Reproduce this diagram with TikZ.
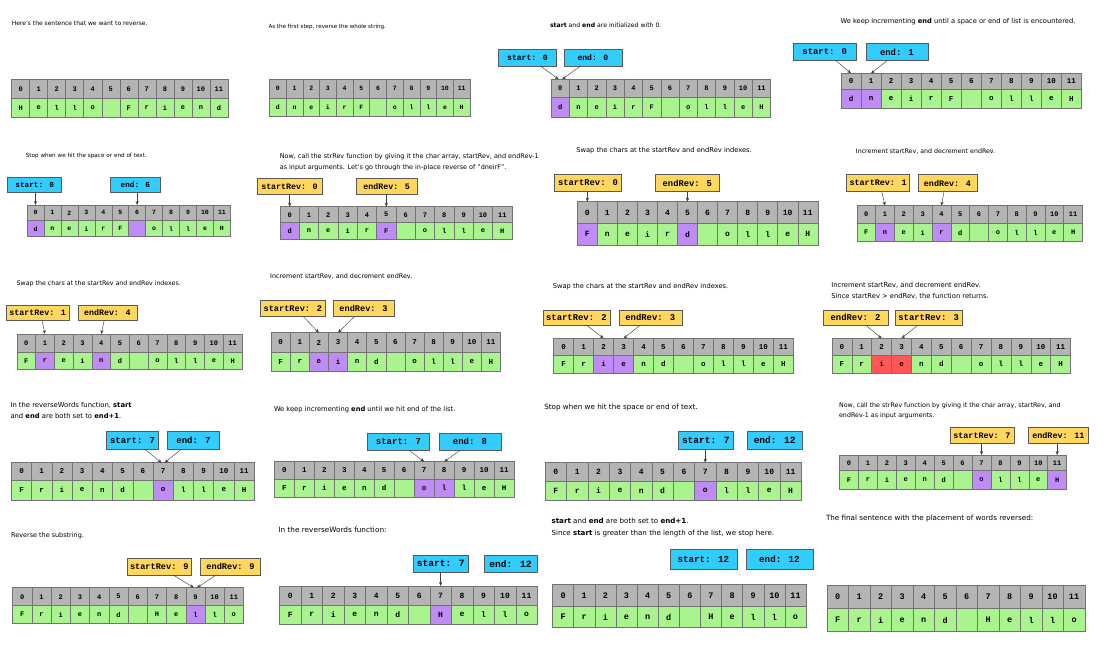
\documentclass[tikz,border=0pt]{standalone}
\usepackage{fontspec}
\usepackage{graphicx}
\setmainfont{DejaVu Sans}
\newfontfamily\mymono{Liberation Mono}
\usetikzlibrary{arrows.meta}
\definecolor{gr}{HTML}{A9F48F}
\definecolor{pu}{HTML}{BF8CF5}
\definecolor{rd}{HTML}{FF5757}
\definecolor{hd}{HTML}{B4B4B4}
\definecolor{cy}{HTML}{33CCFF}
\definecolor{ye}{HTML}{FFD75E}
\newlength\mytxtw
\newcommand\txtfont{\fontsize{10}{16.5}\selectfont}
\newcommand\fitone[2]{\settowidth{\mytxtw}{\txtfont #2}\pgfmathsetmacro\fitsc{#1/\mytxtw}\scalebox{\fitsc}{\txtfont #2}}
\newcommand\fittwo[3]{\settowidth{\mytxtw}{\txtfont\begin{tabular}{@{}l@{}}#2\\#3\end{tabular}}\pgfmathsetmacro\fitsc{#1/\mytxtw}\scalebox{\fitsc}{\txtfont\begin{tabular}{@{}l@{}}#2\\#3\end{tabular}}}
\newcommand\monofs[1]{\fontsize{#1}{#1}\selectfont\mymono\bfseries}
\tikzset{
  cellb/.style={draw=black!55, line width=0.5pt, inner sep=0pt, outer sep=0pt, anchor=north west},
  lab/.style={draw=black!65, line width=0.6pt, inner sep=0pt, outer sep=0pt, font=\monofs{#1}},
  labc/.style={lab=#1, fill=cy},
  laby/.style={lab=#1, fill=ye},
  txt/.style={anchor=west, inner sep=0pt},
  ar/.style={draw=black!75, line width=0.45pt, -{Stealth[length=4pt,width=3.2pt]}}
}
% prefix, x, y, cell width, header height, data height, font size, list
\newcommand\cells[8]{%
  \foreach \ch/\col [count=\i from 0] in {#8}{%
    \node[cellb, fill=hd, minimum width=#4pt, minimum height=#5pt, font=\monofs{#7}] (#1h\i) at ({#2+\i*#4},#3) {\i};
    \node[cellb, fill=\col, minimum width=#4pt, minimum height=#6pt, font=\monofs{#7}] (#1d\i) at ({#2+\i*#4},{#3+#5}) {\ch};
  }}
% name, x1, y1, x2, y2, style, text
\newcommand\mklab[7]{\node[#6, minimum width={(#4-#2)*1pt}, minimum height={(#5-#3)*1pt}] (#1) at ({(#2+#4)/2},{(#3+#5)/2}) {#7};}
\begin{document}
\begin{tikzpicture}[x=1pt,y=-1pt]
\useasboundingbox (0,0) rectangle (1107,648);
\fill[white] (0,0) rectangle (1107,648);

% ---------- Panel 1
\node[txt] (t1) at (11.6,23.3) {\fitone{135.7}{Here's the sentence that we want to reverse.}};
\cells{a1}{11.6}{79.3}{18.03}{19}{19.4}{7}{H/gr,e/gr,l/gr,l/gr,o/gr,{}/gr,F/gr,r/gr,i/gr,e/gr,n/gr,d/gr}

% ---------- Panel 2
\node[txt] (t2) at (268.3,26.7) {\fitone{117.5}{As the first step, reverse the whole string.}};
\cells{a2}{269.4}{79.3}{16.72}{19}{18}{6.5}{d/gr,n/gr,e/gr,i/gr,r/gr,F/gr,{}/gr,o/gr,l/gr,l/gr,e/gr,H/gr}

% ---------- Panel 3
\node[txt] (t3) at (549.8,25) {\fitone{111.4}{\textbf{start} and \textbf{end} are initialized with 0.}};
\mklab{p3s}{498.7}{49}{556.1}{66}{labc=8.1}{start: 0}
\mklab{p3e}{564}{49}{621.8}{66}{labc=8.1}{end: 0}
\cells{a3}{551}{79.3}{18.3}{18.4}{19.3}{7}{d/pu,n/gr,e/gr,i/gr,r/gr,F/gr,{}/gr,o/gr,l/gr,l/gr,e/gr,H/gr}
\draw[ar] ([xshift=13pt]p3s.south) -- ([xshift=-1.5pt]a3h0.north);
\draw[ar] ([xshift=-12.4pt]p3e.south) -- ([xshift=2pt]a3h0.north);

% ---------- Panel 4
\node[txt] (t4) at (840.3,21.7) {\fitone{234.9}{We keep incrementing \textbf{end} until a space or end of list is encountered.}};
\mklab{p4s}{793.4}{43.7}{856}{60.3}{labc=8.9}{start: 0}
\mklab{p4e}{865.8}{43.7}{928}{60.3}{labc=8.9}{end: 1}
\cells{a4}{841}{73.3}{20.04}{16}{19}{7.5}{d/pu,n/pu,e/gr,i/gr,r/gr,F/gr,{}/gr,o/gr,l/gr,l/gr,e/gr,H/gr}
\draw[ar] ([xshift=10.8pt]p4s.south) -- (a4h0.north);
\draw[ar] ([xshift=-9.4pt]p4e.south) -- (a4h1.north);

% ---------- Panel 5
\node[txt] (t5) at (25.6,155.7) {\fitone{121}{Stop when we hit the space or end of text.}};
\mklab{p5s}{7.7}{177.7}{61.7}{192.7}{labc=7.7}{start: 0}
\mklab{p5e}{110}{177.7}{160.6}{192.7}{labc=7.7}{end: 6}
\cells{a5}{27}{205}{16.95}{15.7}{16}{6.5}{d/pu,n/gr,e/gr,i/gr,r/gr,F/gr,{}/pu,o/gr,l/gr,l/gr,e/gr,H/gr}
\draw[ar] (a5h0.north |- p5s.south) -- (a5h0.north);
\draw[ar] (a5h6.north |- p5e.south) -- (a5h6.north);

% ---------- Panel 6
\node[txt] (t6) at (279.6,161.7) {\fittwo{258.8}{Now, call the strRev function by giving it the char array, startRev, and endRev-1}{as input arguments. Let's go through the in-place reverse of "dneirF".}};
\mklab{p6s}{257}{178.3}{322}{194.3}{laby=8.3}{startRev: 0}
\mklab{p6e}{356}{178.3}{417.4}{194.3}{laby=8.3}{endRev: 5}
\cells{a6}{280}{206.7}{19.33}{16}{16.6}{7}{d/pu,n/gr,e/gr,i/gr,r/gr,F/pu,{}/gr,o/gr,l/gr,l/gr,e/gr,H/gr}
\draw[ar] (a6h0.north |- p6s.south) -- (a6h0.north);
\draw[ar] (a6h5.north |- p6e.south) -- (a6h5.north);

% ---------- Panel 7
\node[txt] (t7) at (576.2,150.7) {\fitone{175.4}{Swap the chars at the startRev and endRev indexes.}};
\mklab{p7s}{554.5}{174.3}{621.4}{191.7}{laby=8.8}{startRev: 0}
\mklab{p7e}{655.7}{174.3}{719}{191.7}{laby=8.8}{endRev: 5}
\cells{a7}{577.3}{201.7}{20.04}{21.6}{21.7}{8}{F/pu,n/gr,e/gr,i/gr,r/gr,d/pu,{}/gr,o/gr,l/gr,l/gr,e/gr,H/gr}
\draw[ar] (a7h0.north |- p7s.south) -- (a7h0.north);
\draw[ar] (a7h5.north |- p7e.south) -- (a7h5.north);

% ---------- Panel 8
\node[txt] (t8) at (855.7,151.7) {\fitone{139.3}{Increment startRev, and decrement endRev.}};
\mklab{p8s}{846.7}{174.3}{909.6}{191.7}{laby=8.4}{startRev: 1}
\mklab{p8e}{918}{174.3}{976.9}{191.7}{laby=8.4}{endRev: 4}
\cells{a8}{856.8}{205.7}{18.81}{17.6}{18.4}{7}{F/gr,n/pu,e/gr,i/gr,r/pu,d/gr,{}/gr,o/gr,l/gr,l/gr,e/gr,H/gr}
\draw[ar] ([xshift=3.6pt]p8s.south) -- (a8h1.north);
\draw[ar] ([xshift=-3.5pt]p8e.south) -- (a8h4.north);

% ---------- Panel 9
\node[txt] (t9) at (16.5,283.3) {\fitone{164.1}{Swap the chars at the startRev and endRev indexes.}};
\mklab{p9s}{6.3}{305}{69.1}{320.7}{laby=8.3}{startRev: 1}
\mklab{p9e}{77.9}{305}{136.8}{320.7}{laby=8.3}{endRev: 4}
\cells{a9}{16.8}{334}{18.77}{18.3}{17}{7}{F/gr,r/pu,e/gr,i/gr,n/pu,d/gr,{}/gr,o/gr,l/gr,l/gr,e/gr,H/gr}
\draw[ar] ([xshift=4.4pt]p9s.south) -- (a9h1.north);
\draw[ar] ([xshift=-3.2pt]p9e.south) -- (a9h4.north);

% ---------- Panel 10
\node[txt] (t10) at (270,276.7) {\fitone{142.1}{Increment startRev, and decrement endRev.}};
\mklab{p10s}{260.6}{300.7}{325.2}{316.7}{laby=8.6}{startRev: 2}
\mklab{p10e}{333.2}{300.7}{393.9}{316.7}{laby=8.6}{endRev: 3}
\cells{a10}{271.1}{332.7}{19.12}{19.6}{18.7}{7.5}{F/gr,r/gr,e/pu,i/pu,n/gr,d/gr,{}/gr,o/gr,l/gr,l/gr,e/gr,H/gr}
\draw[ar] ([xshift=10.5pt]p10s.south) -- (a10h2.north);
\draw[ar] ([xshift=-9.3pt]p10e.south) -- (a10h3.north);

% ---------- Panel 11
\node[txt] (t11) at (552.7,286.7) {\fitone{175.3}{Swap the chars at the startRev and endRev indexes.}};
\mklab{p11s}{542.9}{310}{609.8}{325}{laby=8.9}{startRev: 2}
\mklab{p11e}{618.8}{310}{681.8}{325}{laby=8.9}{endRev: 3}
\cells{a11}{553.7}{338.3}{19.96}{16.7}{18.3}{7.5}{F/gr,r/gr,i/pu,e/pu,n/gr,d/gr,{}/gr,o/gr,l/gr,l/gr,e/gr,H/gr}
\draw[ar] ([xshift=9.9pt]p11s.south) -- (a11h2.north);
\draw[ar] ([xshift=-9.8pt]p11e.south) -- (a11h3.north);

% ---------- Panel 12
\node[txt] (t12) at (831.1,290.9) {\fittwo{157.4}{Increment startRev, and decrement endRev.}{Since startRev > endRev, the function returns.}};
\mklab{p12e}{823.2}{310}{887.9}{325}{laby=8.9}{endRev: 2}
\mklab{p12s}{895.2}{310}{962}{325}{laby=8.9}{startRev: 3}
\cells{a12}{831.9}{338.3}{19.89}{16.7}{18.3}{7.5}{F/gr,r/gr,i/rd,e/rd,n/gr,d/gr,{}/gr,o/gr,l/gr,l/gr,e/gr,H/gr}
\draw[ar] ([xshift=9.9pt]p12e.south) -- (a12h2.north);
\draw[ar] ([xshift=-10.6pt]p12s.south) -- (a12h3.north);

% ---------- Panel 13
\node[txt] (t13) at (10.3,411) {\fittwo{121.2}{In the reverseWords function, \textbf{start}}{and \textbf{end} are both set to \textbf{end+1}.}};
\mklab{p13s}{106.7}{431.7}{158.4}{449}{labc=9}{start: 7}
\mklab{p13e}{167.7}{431.7}{219.3}{449}{labc=9}{end: 7}
\cells{a13}{11.4}{462.7}{20.23}{17.3}{20}{7.5}{F/gr,r/gr,i/gr,e/gr,n/gr,d/gr,{}/gr,o/pu,l/gr,l/gr,e/gr,H/gr}
\draw[ar] ([xshift=12pt]p13s.south) -- ([xshift=-1.5pt]a13h7.north);
\draw[ar] ([xshift=-12pt]p13e.south) -- ([xshift=1.5pt]a13h7.north);

% ---------- Panel 14
\node[txt] (t14) at (273.8,410) {\fitone{181.4}{We keep incrementing \textbf{end} until we hit end of the list.}};
\mklab{p14s}{367.4}{433.3}{429.4}{450}{labc=9}{start: 7}
\mklab{p14e}{439}{433.3}{501}{450}{labc=9}{end: 8}
\cells{a14}{274.4}{461.7}{19.97}{17.3}{18.3}{7.5}{F/gr,r/gr,i/gr,e/gr,n/gr,d/gr,{}/gr,o/pu,l/pu,l/gr,e/gr,H/gr}
\draw[ar] ([xshift=10.3pt]p14s.south) -- (a14h7.north);
\draw[ar] ([xshift=-9.6pt]p14e.south) -- (a14h8.north);

% ---------- Panel 15
\node[txt] (t15) at (544.1,407.3) {\fitone{153.3}{Stop when we hit the space or end of text.}};
\mklab{p15s}{678.4}{431.7}{733.1}{449}{labc=9.5}{start: 7}
\mklab{p15e}{747.3}{431.7}{802}{449}{labc=9.5}{end: 12}
\cells{a15}{545.2}{462.7}{21.34}{19}{18.3}{8}{F/gr,r/gr,i/gr,e/gr,n/gr,d/gr,{}/gr,o/pu,l/gr,l/gr,e/gr,H/gr}
\draw[ar] (a15h7.north |- p15s.south) -- (a15h7.north);

% ---------- Panel 16
\node[txt] (t16) at (838.9,410.4) {\fittwo{221.5}{Now, call the strRev function by giving it the char array, startRev, and}{endRev-1 as input arguments.}};
\mklab{p16s}{949.8}{427.7}{1014}{443.3}{laby=8.4}{startRev: 7}
\mklab{p16e}{1028.3}{427.7}{1088.5}{443.3}{laby=8.4}{endRev: 11}
\cells{a16}{839.6}{455}{18.92}{15.7}{18.3}{7}{F/gr,r/gr,i/gr,e/gr,n/gr,d/gr,{}/gr,o/pu,l/gr,l/gr,e/gr,H/pu}
\draw[ar] (a16h7.north |- p16s.south) -- (a16h7.north);
\draw[ar] (a16h11.north |- p16e.south) -- (a16h11.north);

% ---------- Panel 17
\node[txt] (t17) at (11,535.7) {\fitone{72.7}{Reverse the substring.}};
\mklab{p17s}{127.4}{558.3}{191.1}{575}{laby=8.6}{startRev: 9}
\mklab{p17e}{200.4}{558.3}{260.7}{575}{laby=8.6}{endRev: 9}
\cells{a17}{12.7}{587.7}{19.23}{18}{17.6}{7}{F/gr,r/gr,i/gr,e/gr,n/gr,d/gr,{}/gr,H/gr,e/gr,l/pu,l/gr,o/gr}
\draw[ar] ([xshift=14pt]p17s.south) -- ([xshift=-1.5pt]a17h9.north);
\draw[ar] ([xshift=-14.3pt]p17e.south) -- ([xshift=1.5pt]a17h9.north);

% ---------- Panel 18
\node[txt] (t18) at (278.2,530) {\fitone{108.2}{In the reverseWords function:}};
\mklab{p18s}{413.2}{555}{468.3}{572.3}{labc=9.6}{start: 7}
\mklab{p18e}{483.8}{555}{537.2}{572.3}{labc=9.6}{end: 12}
\cells{a18}{279.6}{586}{21.47}{19}{19}{8}{F/gr,r/gr,i/gr,e/gr,n/gr,d/gr,{}/gr,H/pu,e/gr,l/gr,l/gr,o/gr}
\draw[ar] (a18h7.north |- p18s.south) -- (a18h7.north);

% ---------- Panel 19
\node[txt] (t19) at (551.4,527.5) {\fittwo{222.6}{\textbf{start} and \textbf{end} are both set to \textbf{end+1}.}{Since \textbf{start} is greater than the length of the list, we stop here.}};
\mklab{p19s}{670}{549.3}{736.8}{569}{labc=9.2}{start: 12}
\mklab{p19e}{745.9}{549.3}{813}{569}{labc=9.2}{end: 12}
\cells{a19}{552.5}{584.3}{21.13}{22.4}{20.6}{8.5}{F/gr,r/gr,i/gr,e/gr,n/gr,d/gr,{}/gr,H/gr,e/gr,l/gr,l/gr,o/gr}

% ---------- Panel 20
\node[txt] (t20) at (825.8,518.3) {\fitone{207.2}{The final sentence with the placement of words reversed:}};
\cells{a20}{826.9}{585.7}{21.49}{22.6}{23.4}{8.5}{F/gr,r/gr,i/gr,e/gr,n/gr,d/gr,{}/gr,H/gr,e/gr,l/gr,l/gr,o/gr}
\end{tikzpicture}
\end{document}
